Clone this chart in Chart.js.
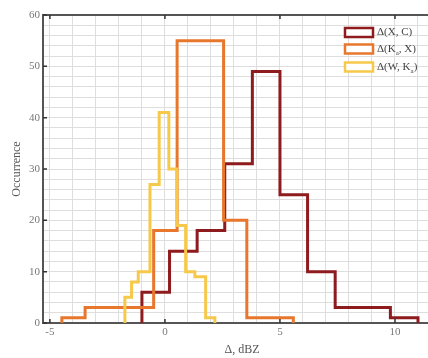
<!DOCTYPE html>
<html>
<head>
<meta charset="utf-8">
<script src="https://cdn.jsdelivr.net/npm/chart.js@4.4.1/dist/chart.umd.min.js"></script>
<style>
  html, body { margin: 0; padding: 0; background: #fff; overflow: hidden; }
  #wrap { width: 444px; height: 358px; }
</style>
</head>
<body>
<div id="wrap"><canvas id="histChart" width="444" height="358"></canvas></div>
<script>
// Histogram bin edges and counts for each difference
const xcEdges = [-1.0, 0.2, 1.4, 2.6, 3.8, 5.0, 6.2, 7.4, 8.6, 9.8, 11.0];
const xcCounts = [6, 14, 18, 31, 49, 25, 10, 3, 3, 1];

const kaxEdges = [-4.48, -3.47, -2.46, -1.45, -0.49, 0.53, 1.54, 2.55, 3.56, 4.57, 5.58];
const kaxCounts = [1, 3, 3, 3, 18, 55, 55, 20, 1, 1];

const wkaEdges = [-1.74, -1.45, -1.16, -0.65, -0.25, 0.17, 0.52, 0.9, 1.3, 1.77, 2.17];
const wkaCounts = [5, 8, 10, 27, 41, 30, 19, 10, 9, 1];

const xTickLabels = [-5, 0, 5, 10];
const yTickLabels = [0, 10, 20, 30, 40, 50, 60];

const seriesNames = [['Δ(X, C)'], ['Δ(K', 'a', ', X)'], ['Δ(W, K', 'a', ')']];
const seriesColors = ['#8e1b1e', '#e8772e', '#f6c94a'];

const serif = '"Liberation Serif", "DejaVu Serif", serif';

// turn edges + counts into step points (outline of the histogram)
function stairs(edges, counts) {
    const pts = [{ x: edges[0], y: 0 }];
    counts.forEach((c, i) => pts.push({ x: edges[i], y: c }));
    const last = edges.length - 1;
    pts.push({ x: edges[last], y: counts[counts.length - 1] });
    pts.push({ x: edges[last], y: 0 });
    return pts;
}

// frame on top, inward ticks and the legend box
const framePlugin = {
    id: 'frame',
    afterDatasetsDraw(chart) {
        const { ctx, chartArea: a, scales } = chart;
        ctx.save();
        ctx.strokeStyle = '#555';
        ctx.lineWidth = 2;
        ctx.beginPath();
        ctx.moveTo(a.left - 1, a.top);
        ctx.lineTo(a.right, a.top);
        ctx.stroke();

        ctx.lineWidth = 1.5;
        ctx.strokeStyle = '#333';
        ctx.beginPath();
        xTickLabels.forEach(v => {
            const px = scales.x.getPixelForValue(v);
            ctx.moveTo(px, a.bottom); ctx.lineTo(px, a.bottom - 4);
            ctx.moveTo(px, a.top); ctx.lineTo(px, a.top + 4);
        });
        yTickLabels.forEach(v => {
            const py = scales.y.getPixelForValue(v);
            ctx.moveTo(a.left, py); ctx.lineTo(a.left + 4, py);
        });
        ctx.stroke();

        // legend
        const bx = a.right - 96, bw = 28, bh = 9;
        const rows = [a.top + 17.5, a.top + 34, a.top + 52];
        ctx.font = '11px ' + serif;
        ctx.textBaseline = 'middle';
        seriesNames.forEach((parts, i) => {
            const cy = rows[i];
            ctx.fillStyle = '#fff';
            ctx.fillRect(bx, cy - bh / 2, bw, bh);
            ctx.strokeStyle = seriesColors[i];
            ctx.lineWidth = 2.5;
            ctx.strokeRect(bx, cy - bh / 2, bw, bh);

            let tx = bx + bw + 4;
            ctx.fillStyle = '#444';
            parts.forEach((p, j) => {
                if (j === 1) {
                    ctx.font = '7px ' + serif;
                    ctx.fillText(p, tx, cy + 4);
                    tx += ctx.measureText(p).width;
                    ctx.font = '11px ' + serif;
                } else {
                    ctx.fillText(p, tx, cy);
                    tx += ctx.measureText(p).width;
                }
            });
        });
        ctx.restore();
    }
};

function makeSet(label, edges, counts, color, order) {
    return {
        label: label,
        data: stairs(edges, counts),
        borderColor: color,
        backgroundColor: color,
        borderWidth: 3,
        borderJoinStyle: 'miter',
        stepped: 'before',
        pointRadius: 0,
        fill: false,
        order: order
    };
}

const ctx = document.getElementById('histChart').getContext('2d');
new Chart(ctx, {
    type: 'line',
    data: {
        datasets: [
            makeSet('Δ(X, C)', xcEdges, xcCounts, seriesColors[0], 3),
            makeSet('Δ(Ka, X)', kaxEdges, kaxCounts, seriesColors[1], 2),
            makeSet('Δ(W, Ka)', wkaEdges, wkaCounts, seriesColors[2], 1)
        ]
    },
    options: {
        responsive: false,
        animation: false,
        devicePixelRatio: 1,
        layout: { padding: { top: 15, right: 3, left: 0, bottom: 0 } },
        plugins: {
            legend: { display: false },
            tooltip: { enabled: false }
        },
        scales: {
            x: {
                type: 'linear',
                min: -5.3,
                max: 12,
                afterFit: s => { s.height = 35; },
                ticks: {
                    stepSize: 1,
                    includeBounds: false,
                    autoSkip: false,
                    maxRotation: 0,
                    padding: 3,
                    color: '#777',
                    font: { family: serif, size: 11 },
                    callback: v => (xTickLabels.includes(v) ? v : '')
                },
                grid: { color: '#dedede', lineWidth: 1, drawTicks: false },
                border: { color: '#555', width: 2 },
                title: {
                    display: true,
                    text: 'Δ, dBZ',
                    color: '#555',
                    font: { family: serif, size: 12 },
                    padding: { top: 0, bottom: 1 }
                }
            },
            y: {
                min: 0,
                max: 60,
                afterFit: s => { s.width = 43; },
                ticks: {
                    stepSize: 2,
                    autoSkip: false,
                    padding: 3,
                    color: '#777',
                    font: { family: serif, size: 11 },
                    callback: v => (yTickLabels.includes(v) ? v : '')
                },
                grid: { color: '#dedede', lineWidth: 1, drawTicks: false },
                border: { color: '#555', width: 2 },
                title: {
                    display: true,
                    text: 'Occurrence',
                    color: '#555',
                    font: { family: serif, size: 12 },
                    padding: { top: 10, bottom: 0 }
                }
            }
        }
    },
    plugins: [framePlugin]
});
</script>
</body>
</html>
